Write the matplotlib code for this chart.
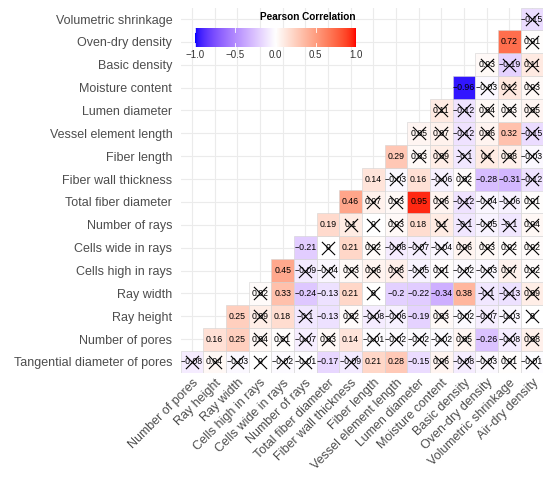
import numpy as np
import matplotlib
matplotlib.use("Agg")
import matplotlib.pyplot as plt
from matplotlib.colors import ListedColormap, Normalize
from matplotlib.patches import Rectangle

plt.rcParams['font.family'] = ['Liberation Sans', 'DejaVu Sans']

col_labels = ["Number of pores", "Ray height", "Ray width", "Cells high in rays",
              "Cells wide in rays", "Number of rays", "Total fiber diameter",
              "Fiber wall thickness", "Fiber length", "Vessel element length",
              "Lumen diameter", "Moisture content", "Basic density",
              "Oven-dry density", "Volumetric shrinkage", "Air-dry density"]

row_labels = ["Tangential diameter of pores", "Number of pores", "Ray height", "Ray width",
              "Cells high in rays", "Cells wide in rays", "Number of rays",
              "Total fiber diameter", "Fiber wall thickness", "Fiber length",
              "Vessel element length", "Lumen diameter", "Moisture content",
              "Basic density", "Oven-dry density", "Volumetric shrinkage"]

# correlation values: row r holds the columns r..15
corr_rows = [
    [-0.08, 0.04, -0.03, 0, -0.02, -0.01, -0.17, -0.09, 0.21, 0.28, -0.15, 0.06, -0.08, -0.03, 0.01, -0.01],
    [0.16, 0.25, 0.04, 0.01, -0.07, 0.03, 0.14, -0.01, -0.02, -0.02, -0.02, 0.05, -0.26, -0.08, 0.08],
    [0.25, 0.09, 0.18, -0.1, -0.13, 0.02, -0.08, -0.06, -0.19, 0.03, -0.02, -0.07, -0.03, 0],
    [0.02, 0.33, -0.24, -0.13, 0.21, 0, -0.2, -0.22, -0.34, 0.38, -0.1, -0.13, 0.09],
    [0.45, -0.09, -0.04, 0.03, 0.06, 0.08, -0.05, 0.01, -0.02, -0.03, 0.07, 0.02],
    [-0.21, 0, 0.21, 0.02, -0.08, -0.07, -0.04, 0.06, 0.03, 0.02, 0.02],
    [0.19, 0.1, 0, 0.03, 0.18, 0.1, -0.1, -0.05, -0.1, 0.04],
    [0.46, 0.07, 0.03, 0.95, 0.06, -0.12, -0.04, -0.06, 0.01],
    [0.14, -0.03, 0.16, -0.06, 0.02, -0.28, -0.31, -0.12],
    [0.29, 0.03, 0.09, -0.1, 0.1, 0.08, -0.03],
    [0.05, 0.07, -0.12, 0.06, 0.32, -0.15],
    [0.11, -0.12, 0.04, 0.03, 0.05],
    [-0.96, -0.03, 0.12, 0.03],
    [0.03, -0.19, 0.11],
    [0.72, 0.01],
    [-0.15],
]

# 1 = significant (no cross), 0 = crossed out
signif_rows = [
    [0, 0, 0, 0, 0, 0, 1, 0, 1, 1, 1, 0, 0, 0, 0, 0],
    [1, 1, 0, 0, 0, 0, 1, 0, 0, 0, 0, 0, 1, 0, 0],
    [1, 0, 1, 0, 1, 0, 0, 0, 1, 0, 0, 0, 0, 0],
    [0, 1, 1, 1, 1, 0, 1, 1, 1, 1, 0, 0, 0],
    [1, 0, 0, 0, 0, 0, 0, 0, 0, 0, 0, 0],
    [1, 0, 1, 0, 0, 0, 0, 0, 0, 0, 0],
    [1, 0, 0, 0, 1, 0, 0, 0, 0, 0],
    [1, 0, 0, 1, 0, 0, 0, 0, 0],
    [1, 0, 1, 0, 0, 1, 1, 0],
    [1, 0, 0, 0, 0, 0, 0],
    [0, 0, 0, 0, 1, 0],
    [0, 0, 0, 0, 0],
    [1, 0, 0, 0],
    [0, 0, 0],
    [1, 0],
    [0],
]

legend_ticks = [-1.0, -0.5, 0.0, 0.5, 1.0]

# ---- Lab-interpolated blue-white-red palette (like scale_fill_gradient2) ----
M = np.array([[0.4124, 0.3576, 0.1805], [0.2126, 0.7152, 0.0722], [0.0193, 0.1192, 0.9505]])
WHITE_PT = np.array([0.95047, 1.0, 1.08883])

def srgb_to_lab(rgb):
    rgb = np.asarray(rgb, float)
    lin = np.where(rgb <= 0.04045, rgb / 12.92, ((rgb + 0.055) / 1.055) ** 2.4)
    xyz = (M @ lin) / WHITE_PT
    d = 6 / 29
    f = np.where(xyz > d ** 3, np.cbrt(xyz), xyz / (3 * d * d) + 4 / 29)
    return np.array([116 * f[1] - 16, 500 * (f[0] - f[1]), 200 * (f[1] - f[2])])

def lab_to_srgb(lab):
    L, a, b = lab
    fy = (L + 16) / 116
    fx = fy + a / 500
    fz = fy - b / 200
    d = 6 / 29
    def finv(t):
        return t ** 3 if t > d else 3 * d * d * (t - 4 / 29)
    xyz = np.array([finv(fx), finv(fy), finv(fz)]) * WHITE_PT
    lin = np.clip(np.linalg.inv(M) @ xyz, 0, 1)
    rgb = np.where(lin <= 0.0031308, 12.92 * lin, 1.055 * lin ** (1 / 2.4) - 0.055)
    return np.clip(rgb, 0, 1)

lab_blue = srgb_to_lab([0, 0, 1])
lab_white = srgb_to_lab([1, 1, 1])
lab_red = srgb_to_lab([1, 0, 0])
cols = []
for t in np.linspace(-1, 1, 511):
    if t < 0:
        lab = lab_white + (lab_blue - lab_white) * (-t)
    else:
        lab = lab_white + (lab_red - lab_white) * t
    cols.append(lab_to_srgb(lab))
cmap = ListedColormap(cols)
norm = Normalize(-1, 1)

def fmt(v):
    s = ("%.2f" % v).rstrip("0").rstrip(".")
    if s in ("-0", ""):
        s = "0"
    return s.replace("-", "\u2212")

fig = plt.figure(figsize=(5.5, 4.83), dpi=100)
ax = fig.add_axes([180.6 / 550, 1 - 373.4 / 483, 362.8 / 550, 365.8 / 483])
n = len(col_labels)
ax.set_xlim(-0.5, n - 0.5)
ax.set_ylim(-0.5, n - 0.5)
ax.set_xticks(range(n))
ax.set_yticks(range(n))
ax.set_xticklabels(col_labels, rotation=45, ha='right', va='top', rotation_mode='anchor',
                   fontsize=9, color='#4D4D4D')
ax.set_yticklabels(row_labels, fontsize=9, color='#4D4D4D')
ax.tick_params(axis='y', length=0, pad=6)
ax.tick_params(axis='x', length=0, pad=2.5)
for s in ax.spines.values():
    s.set_visible(False)
ax.grid(True, color='#EBEBEB', lw=0.8)
ax.set_axisbelow(True)

xs_cross, ys_cross = [], []
for r, (vals, sig) in enumerate(zip(corr_rows, signif_rows)):
    for k, (v, sg) in enumerate(zip(vals, sig)):
        c = r + k
        ax.add_patch(Rectangle((c - 0.5, r - 0.5), 1, 1, facecolor=cmap(norm(v)),
                               edgecolor='#D3D3D3', lw=0.4, zorder=2))
        ax.text(c, r, fmt(v), ha='center', va='center', fontsize=6.3, color='black', zorder=3)
        if not sg:
            xs_cross.append(c)
            ys_cross.append(r)
ax.scatter(xs_cross, ys_cross, marker='x', s=90, c='black', linewidths=0.8, zorder=4)

# legend colorbar
cax = fig.add_axes([195 / 550, 1 - 47 / 483, 161 / 550, 19 / 483])
grad = np.linspace(-1, 1, 300).reshape(1, -1)
cax.imshow(grad, aspect='auto', cmap=cmap, norm=norm, extent=[-1, 1, 0, 1])
cax.set_xlim(-1, 1)
cax.set_ylim(0, 1)
cax.set_yticks([])
cax.set_xticks(legend_ticks)
cax.set_xticklabels([("%.1f" % t).replace("-", "\u2212") for t in legend_ticks], fontsize=7, color='#333333')
cax.tick_params(axis='x', length=0, pad=2)
for t in legend_ticks:
    cax.plot([t, t], [0, 0.2], color='white', lw=0.6)
    cax.plot([t, t], [0.8, 1], color='white', lw=0.6)
for s in cax.spines.values():
    s.set_visible(False)
fig.text(356 / 550, 1 - 17 / 483, "Pearson Correlation", ha='right', va='center',
         fontsize=7.2, fontweight='bold')

fig.savefig("out.png", dpi=100, facecolor='white')
